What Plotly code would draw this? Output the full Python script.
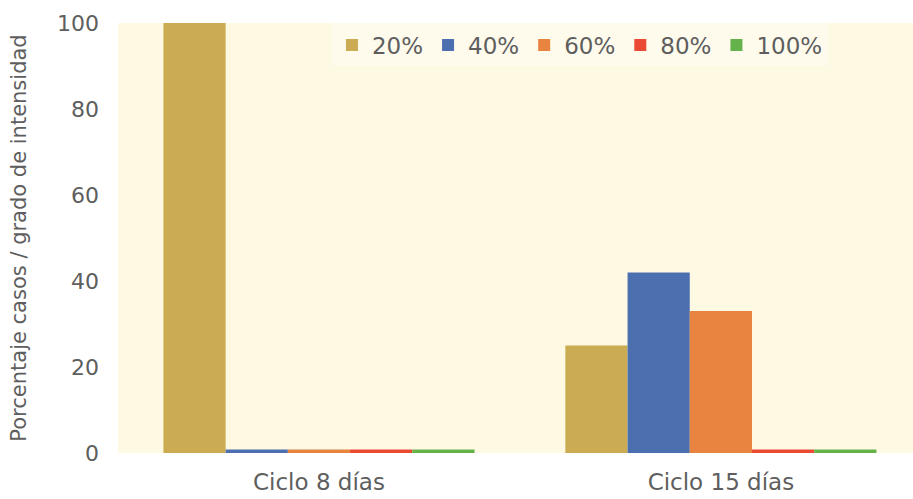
import plotly.graph_objects as go

categories = ["Ciclo 8 días", "Ciclo 15 días"]
series_names = ["20%", "40%", "60%", "80%", "100%"]
values = {
    "20%": [100, 25],
    "40%": [0.8, 42],
    "60%": [0.8, 33],
    "80%": [0.8, 0.8],
    "100%": [0.8, 0.8],
}
colors = {
    "20%": "#CBAC52",
    "40%": "#4C6FB0",
    "60%": "#E8843F",
    "80%": "#EA4A33",
    "100%": "#66B24A",
}
y_ticks = [0, 20, 40, 60, 80, 100]

fig = go.Figure()
for name in series_names:
    fig.add_trace(go.Bar(
        x=categories, y=values[name], name=name,
        marker=dict(color=colors[name], line=dict(width=0)),
    ))

font_family = "'DejaVu Sans', sans-serif"
text_color = "#5E5E5E"
fig.update_layout(
    width=913, height=499,
    margin=dict(l=118, r=0, t=23, b=46),
    paper_bgcolor="white",
    plot_bgcolor="#FDF9E2",
    barmode="group",
    bargap=0.226,
    bargroupgap=0,
    font=dict(family=font_family, color=text_color, size=20),
    legend=dict(
        orientation="h",
        x=0.893, xanchor="right",
        y=0.949, yanchor="middle",
        bgcolor="rgba(255,255,255,0.4)",
        font=dict(size=23, color=text_color),
        itemwidth=30,
        traceorder="normal",
    ),
    xaxis=dict(
        type="category",
        range=[-0.5, 1.478],
        showgrid=False, showline=False, zeroline=False,
        ticks="", ticklabelstandoff=13,
        tickfont=dict(size=23, color=text_color),
    ),
    yaxis=dict(
        range=[0, 100],
        tickvals=y_ticks,
        showgrid=False, showline=False, zeroline=False,
        ticks="", ticklabelstandoff=18,
        tickfont=dict(size=22, color=text_color),
        title=dict(text="Porcentaje casos / grado de intensidad",
                   font=dict(size=21, color=text_color), standoff=24),
    ),
)

fig.write_html("out.html")
